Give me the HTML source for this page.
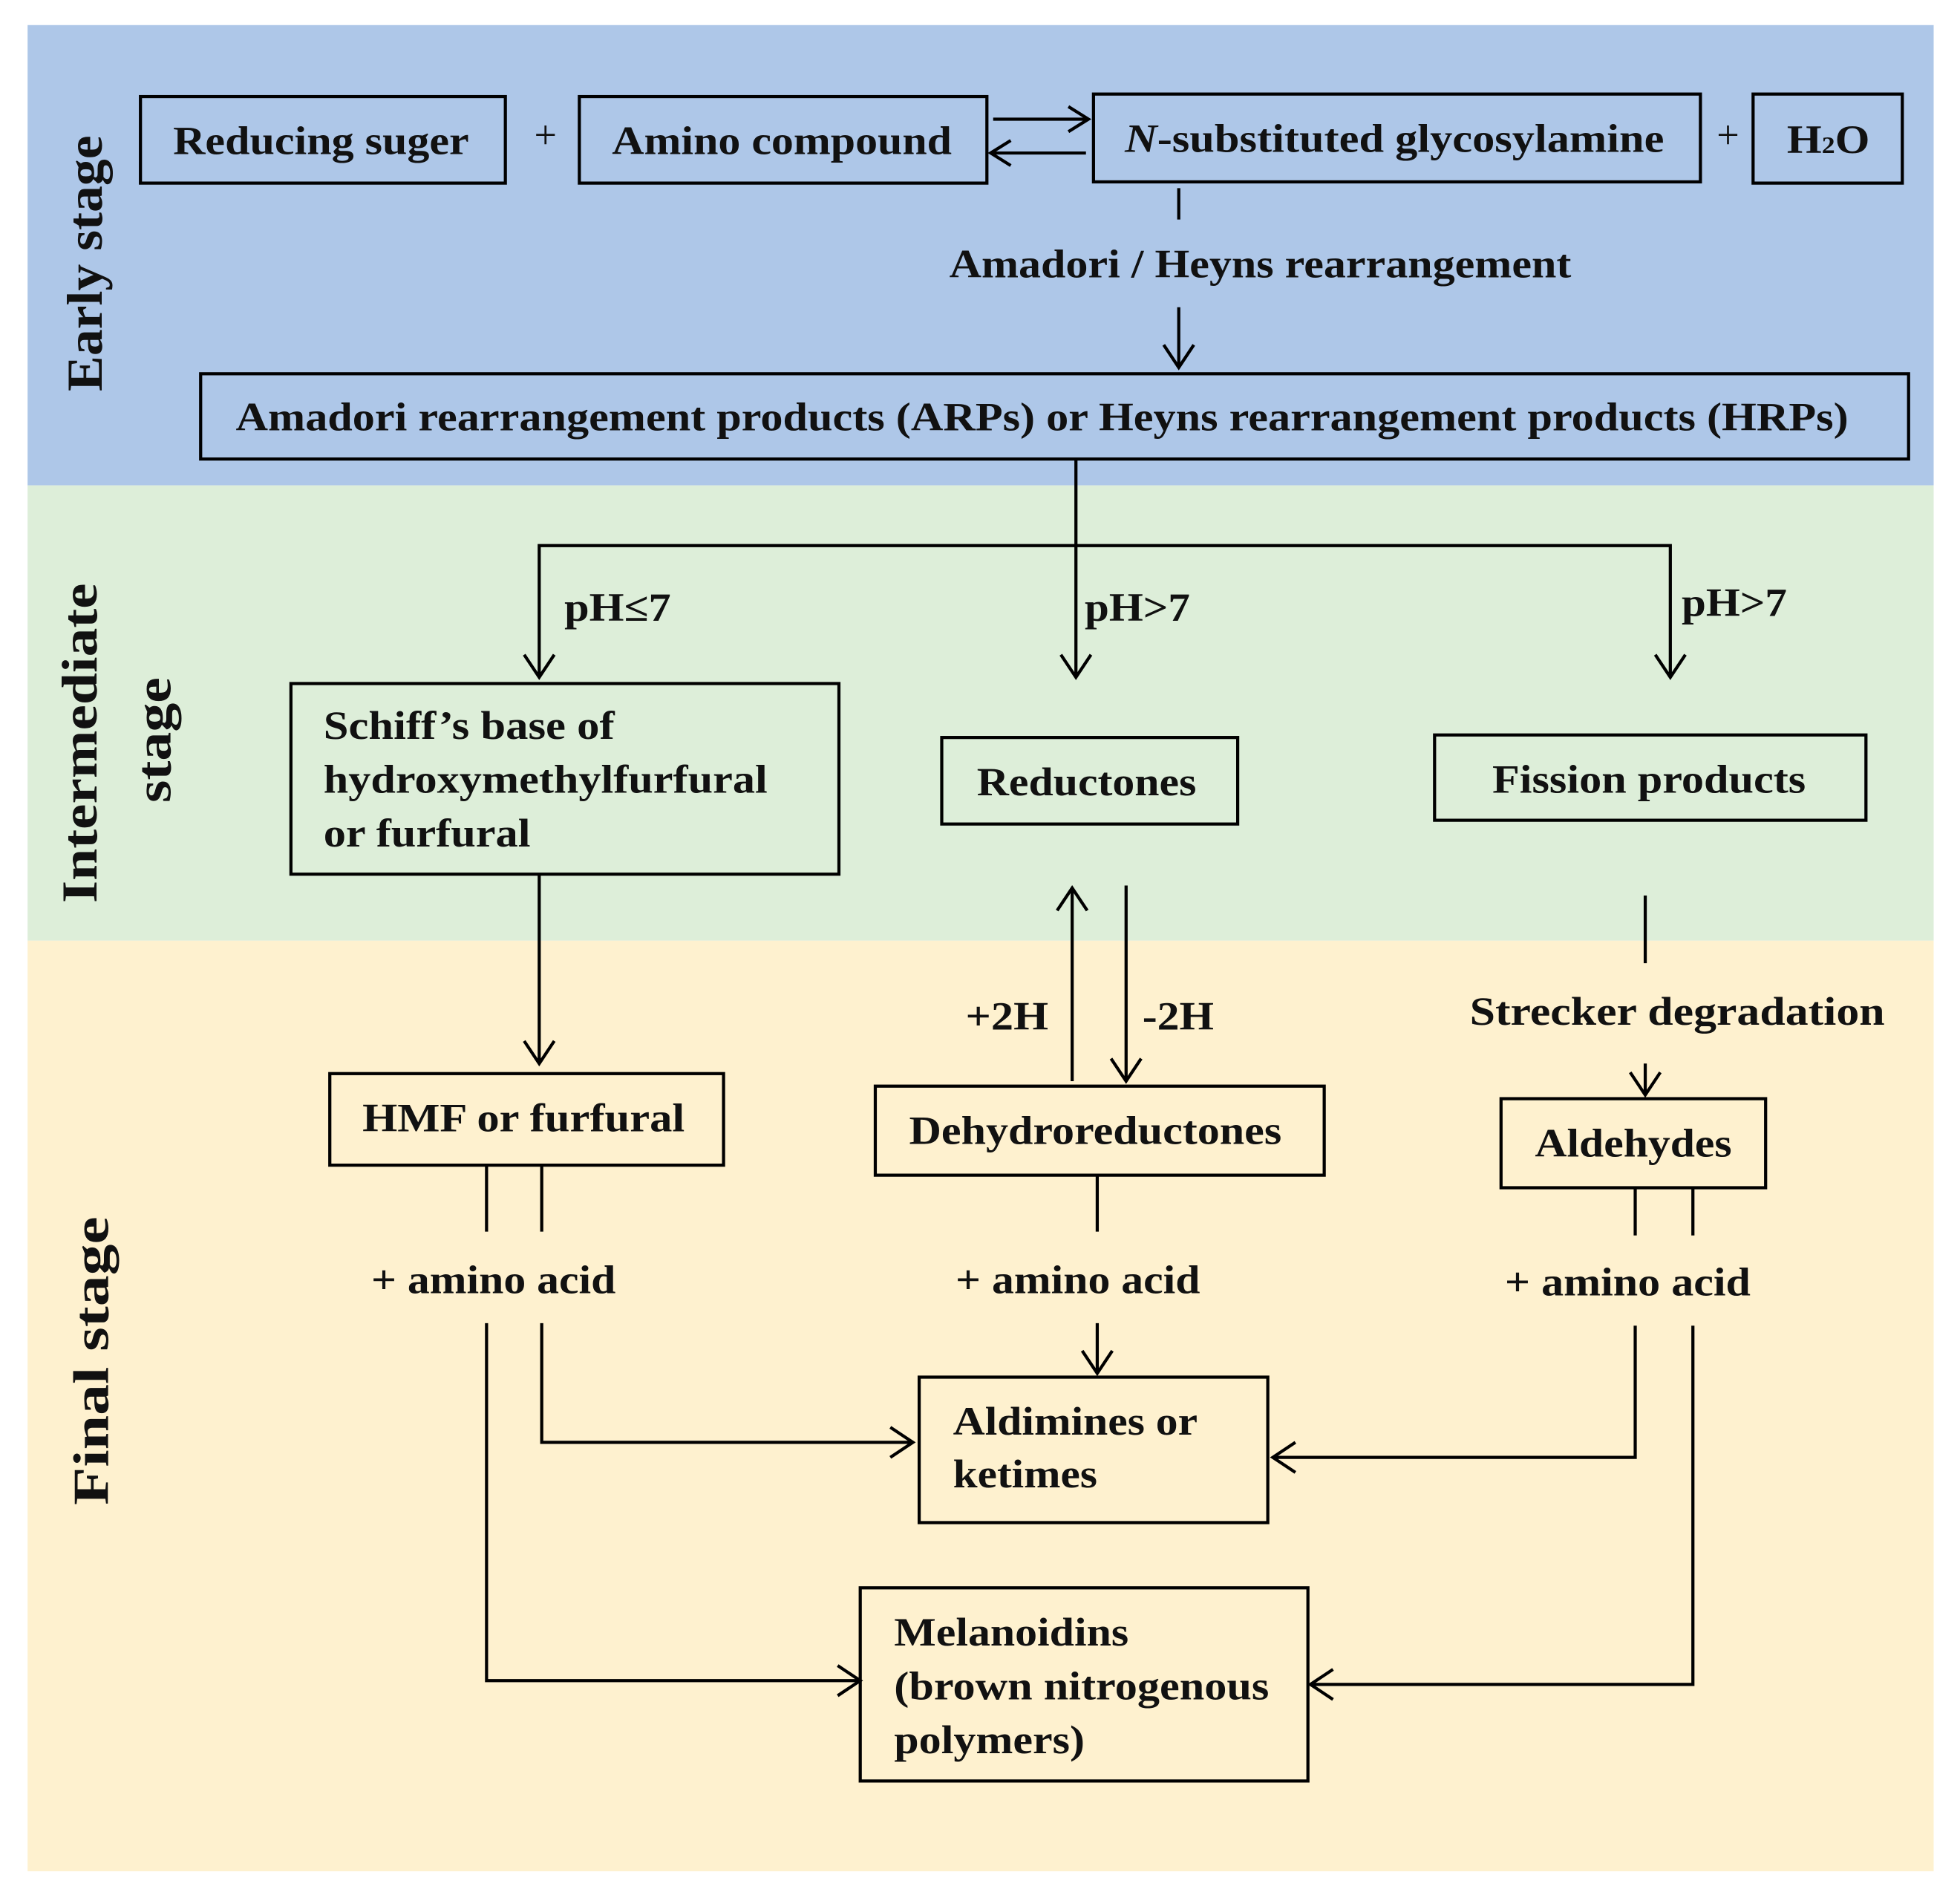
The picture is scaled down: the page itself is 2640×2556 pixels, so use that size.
<!DOCTYPE html>
<html><head><meta charset="utf-8"><style>html,body{margin:0;padding:0;background:#fff}svg{display:block}</style></head>
<body>
<svg width="2640" height="2556" viewBox="0 0 1563 1513.3" preserveAspectRatio="none" xmlns="http://www.w3.org/2000/svg" font-family="Liberation Serif, serif" font-weight="bold">
<rect x="22" y="20" width="1520" height="367" fill="#aec7e8"/>
<rect x="22" y="387" width="1520" height="363" fill="#ddeed9"/>
<rect x="22" y="750" width="1520" height="742" fill="#fef1cf"/>
<g fill="none" stroke="#000" stroke-width="2.5">
<rect x="112" y="77" width="291" height="69"/>
<rect x="462" y="77" width="325" height="69"/>
<rect x="872" y="75" width="484" height="70"/>
<rect x="1398" y="75" width="119" height="71"/>
<rect x="160" y="298" width="1362" height="68"/>
<rect x="232" y="545" width="437" height="152"/>
<rect x="751" y="588" width="236" height="69"/>
<rect x="1144" y="586" width="344" height="68"/>
<rect x="263" y="856" width="314" height="73"/>
<rect x="698" y="866" width="358" height="71"/>
<rect x="1197" y="876" width="211" height="71"/>
<rect x="733" y="1098" width="278" height="116"/>
<rect x="686" y="1266" width="357" height="154"/>
<path d="M792 95H868M852 85L868 95L852 105"/>
<path d="M866 122H790M806 112L790 122L806 132"/>
<path d="M940 150V175M940 245V293M928 275L940 293L952 275"/>
<path d="M858 366V540M846 522L858 540L870 522"/>
<path d="M430 540V435H1332V540M418 522L430 540L442 522M1320 522L1332 540L1344 522"/>
<path d="M430 697V848M418 830L430 848L442 830"/>
<path d="M855 862V708M843 726L855 708L867 726"/>
<path d="M898 706V862M886 844L898 862L910 844"/>
<path d="M1312 714V768M1312 848V873M1300 855L1312 873L1324 855"/>
<path d="M388 929V982M432 929V982"/>
<path d="M432 1055V1150H728M710 1138L728 1150L710 1162"/>
<path d="M388 1055V1340H686M668 1328L686 1340L668 1352"/>
<path d="M875 937V982M875 1055V1095M863 1077L875 1095L887 1077"/>
<path d="M1304 947V985M1350 947V985"/>
<path d="M1304 1057V1162H1015M1033 1150L1015 1162L1033 1174"/>
<path d="M1350 1057V1343H1045M1063 1331L1045 1343L1063 1355"/>
</g>
<g font-size="32" fill="#111" lengthAdjust="spacingAndGlyphs">
<text x="138" y="123" textLength="236" lengthAdjust="spacingAndGlyphs">Reducing suger</text>
<text x="435" y="118" text-anchor="middle" font-weight="normal">+</text>
<text x="488" y="123" textLength="271" lengthAdjust="spacingAndGlyphs">Amino compound</text>
<text x="897" y="121" textLength="430" lengthAdjust="spacingAndGlyphs"><tspan font-style="italic">N</tspan>-substituted glycosylamine</text>
<text x="1378" y="118" text-anchor="middle" font-weight="normal">+</text>
<text x="1425" y="122" textLength="66" lengthAdjust="spacingAndGlyphs">H<tspan font-size="19">2</tspan>O</text>
<text x="757" y="221" textLength="496" lengthAdjust="spacingAndGlyphs">Amadori / Heyns rearrangement</text>
<text x="188" y="343" textLength="1286" lengthAdjust="spacingAndGlyphs">Amadori rearrangement products (ARPs) or Heyns rearrangement products (HRPs)</text>
<text x="450" y="495" textLength="85" lengthAdjust="spacingAndGlyphs">pH≤7</text>
<text x="865" y="495" textLength="84" lengthAdjust="spacingAndGlyphs">pH&gt;7</text>
<text x="1341" y="491" textLength="84" lengthAdjust="spacingAndGlyphs">pH&gt;7</text>
<text x="258" y="589" textLength="232" lengthAdjust="spacingAndGlyphs">Schiff’s base of</text>
<text x="258" y="632" textLength="354" lengthAdjust="spacingAndGlyphs">hydroxymethylfurfural</text>
<text x="258" y="675" textLength="165" lengthAdjust="spacingAndGlyphs">or furfural</text>
<text x="779" y="634" textLength="175" lengthAdjust="spacingAndGlyphs">Reductones</text>
<text x="1190" y="632" textLength="250" lengthAdjust="spacingAndGlyphs">Fission products</text>
<text x="770" y="821" textLength="66" lengthAdjust="spacingAndGlyphs">+2H</text>
<text x="911" y="821" textLength="57" lengthAdjust="spacingAndGlyphs">-2H</text>
<text x="1172" y="817" textLength="331" lengthAdjust="spacingAndGlyphs">Strecker  degradation</text>
<text x="289" y="902" textLength="257" lengthAdjust="spacingAndGlyphs">HMF or furfural</text>
<text x="725" y="912" textLength="297" lengthAdjust="spacingAndGlyphs">Dehydroreductones</text>
<text x="1224" y="922" textLength="157" lengthAdjust="spacingAndGlyphs">Aldehydes</text>
<text x="296" y="1031" textLength="195" lengthAdjust="spacingAndGlyphs">+ amino acid</text>
<text x="762" y="1031" textLength="195" lengthAdjust="spacingAndGlyphs">+ amino acid</text>
<text x="1200" y="1033" textLength="196" lengthAdjust="spacingAndGlyphs">+ amino acid</text>
<text x="760" y="1144" textLength="195" lengthAdjust="spacingAndGlyphs">Aldimines or</text>
<text x="760" y="1186" textLength="115" lengthAdjust="spacingAndGlyphs">ketimes</text>
<text x="713" y="1312" textLength="187" lengthAdjust="spacingAndGlyphs">Melanoidins</text>
<text x="713" y="1355" textLength="299" lengthAdjust="spacingAndGlyphs">(brown nitrogenous</text>
<text x="713" y="1398" textLength="152" lengthAdjust="spacingAndGlyphs">polymers)</text>
</g>
<g font-size="40" fill="#111">
<text transform="translate(81 312) rotate(-90)" textLength="204" lengthAdjust="spacingAndGlyphs">Early stage</text>
<text transform="translate(77 720) rotate(-90)" textLength="255" lengthAdjust="spacingAndGlyphs">Intermediate</text>
<text transform="translate(136 640) rotate(-90)" textLength="100" lengthAdjust="spacingAndGlyphs">stage</text>
<text transform="translate(86 1200) rotate(-90)" textLength="230" lengthAdjust="spacingAndGlyphs">Final stage</text>
</g>
</svg>
</body></html>
